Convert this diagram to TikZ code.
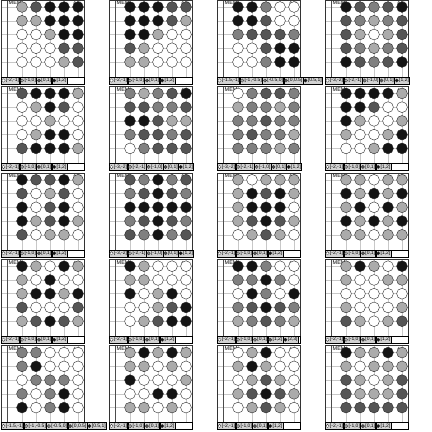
\documentclass[tikz,border=0pt]{standalone}
\usepackage{fontspec}
\setmainfont{Liberation Sans}
\definecolor{cW}{HTML}{FFFFFF}
\definecolor{cL}{HTML}{ABABAB}
\definecolor{cM}{HTML}{808080}
\definecolor{cD}{HTML}{555555}
\definecolor{cB}{HTML}{141414}
\definecolor{gridc}{HTML}{C8C8C8}
\tikzset{
 frame/.style={draw=black!80, line width=0.6pt},
 gridln/.style={draw=gridc, line width=0.5pt},
 axisln/.style={draw=black!70, line width=0.5pt},
 dot/.style={draw=black!85, line width=0.4pt},
 legcell/.style={draw=black, line width=0.3pt, fill=gray!35, inner xsep=0.4pt, inner ysep=0pt, minimum height=7pt, font=\fontsize{5}{5}\selectfont, anchor=west},
 memlbl/.style={font=\fontsize{5.5}{5.5}\selectfont, anchor=north west, inner sep=0pt},
}
\newcommand\legfour{W/{[-2,-1]},L/{[-1,0]},D/{[0,1]},B/{[1,2]}}
\newcommand\legfiveA{W/{[-1.5,-1]},L/{[-1,-0.5]},M/{[-0.5,0]},D/{[0,0.5]},B/{[0.5,1]}}
\newcommand\legfiveB{W/{[-3,-2]},L/{[-2,-1]},M/{[-1,0]},D/{[0,1]},B/{[1,2]}}
\newcommand\legfiveC{W/{[-2,-1]},L/{[-1,0]},M/{[0,1]},D/{[1,2]},B/{[2,3]}}
\newcommand\mypanel[4]{%
\begin{scope}[shift={(#1,#2)}]
 \fill[white] (1,0) rectangle (84,84);
 \node[memlbl] at (8.5,1) {MEM};
 \node[memlbl, anchor=north east, font=\fontsize{4.5}{4.5}\selectfont] at (81,1.5) {4 m};
 \foreach \yy in {7,20.75,34.5,48.25,62} \draw[gridln] (1,\yy) -- (84,\yy);
 \foreach \xx in {22,36,50,64,78} \draw[gridln] (\xx,0) -- (\xx,77);
 \draw[axisln] (7,0) -- (7,84);
 \foreach \rowvals [count=\r from 0] in {#3} {
   \foreach \c [count=\k from 0] in \rowvals {
     \draw[dot, fill=c\c] (22+14*\k, 7+13.75*\r) circle (5.4pt);
   }
 }
 \draw[frame] (1,0) rectangle (84,84);
 \draw[legcell, fill=white] (1,77) rectangle (84,84);
 \coordinate (leg0) at (1,80.5);
 \foreach \col/\txt [count=\i, remember=\i as \lasti (initially 0)] in #4 {
   \node[legcell] (leg\i) at (leg\lasti.east) {\hspace*{4.4pt}\txt};
   \draw[dot, line width=0.25pt, fill=c\col] ([xshift=2.5pt]leg\i.west) circle (1.7pt);
 }
\end{scope}}
\begin{document}
\begin{tikzpicture}[x=1pt,y=-1pt]
\useasboundingbox (0,0) rectangle (432,432);
% row 1
\mypanel{0}{0}{{L,D,B,B,B},{L,L,B,B,B},{W,W,L,B,B},{W,W,W,D,D},{W,W,W,L,D}}{\legfour}
\mypanel{108}{0}{{B,B,B,D,D},{B,B,B,D,L},{B,B,L,W,W},{D,L,W,W,W},{L,L,W,W,W}}{\legfour}
\mypanel{216}{0}{{B,B,M,W,W},{B,B,D,W,W},{M,D,D,D,M},{W,W,D,B,B},{W,W,M,B,B}}{\legfiveA}
\mypanel{324}{0}{{B,D,M,D,B},{D,M,L,M,D},{D,L,W,L,D},{D,M,L,M,D},{B,D,M,D,B}}{\legfiveB}
% row 2
\mypanel{0}{86.4}{{D,B,B,B,L},{W,L,B,D,W},{W,W,L,W,W},{W,L,B,B,W},{D,B,B,B,L}}{\legfour}
\mypanel{108}{86.4}{{M,L,M,D,B},{D,D,M,M,D},{B,B,D,L,L},{M,D,D,M,D},{W,M,D,D,D}}{\legfiveB}
\mypanel{216}{86.4}{{W,M,D,D,M},{L,M,M,L,M},{M,M,D,M,M},{M,D,M,M,L},{M,M,M,L,M}}{\legfiveB}
\mypanel{324}{86.4}{{B,B,B,B,L},{B,B,D,W,W},{B,L,W,W,L},{L,W,W,L,B},{W,W,L,B,B}}{\legfour}
% row 3
\mypanel{0}{172.8}{{B,D,D,B,L},{D,W,L,D,W},{B,W,D,B,W},{B,L,D,B,L},{D,W,L,L,W}}{\legfour}
\mypanel{108}{172.8}{{D,M,B,M,D},{M,D,B,D,M},{B,B,B,B,B},{M,D,B,D,M},{D,M,B,M,D}}{\legfiveB}
\mypanel{216}{172.8}{{L,W,L,L,L},{L,B,D,B,L},{L,B,B,B,W},{L,D,B,D,L},{W,L,D,L,W}}{\legfour}
\mypanel{324}{172.8}{{L,L,W,L,L},{B,L,B,L,B},{L,B,W,B,L},{B,L,B,L,B},{L,L,W,L,L}}{\legfour}
% row 4
\mypanel{0}{259.2}{{B,L,W,B,L},{L,W,B,W,W},{L,B,B,L,B},{D,W,W,W,D},{L,D,B,D,L}}{\legfour}
\mypanel{108}{259.2}{{B,L,W,W,W},{L,L,W,W,W},{B,W,L,B,W},{W,W,L,D,B},{W,L,D,B,B}}{\legfour}
\mypanel{216}{259.2}{{B,B,M,W,W},{M,M,B,M,W},{W,B,M,W,B},{M,D,B,D,M},{L,M,D,M,L}}{\legfiveC}
\mypanel{324}{259.2}{{L,B,L,W,B},{L,W,W,L,L},{W,W,W,W,W},{L,W,W,W,L},{D,L,W,L,D}}{\legfour}
% row 5
\mypanel{0}{345.6}{{M,M,W,W,W},{M,B,W,W,W},{W,M,M,M,W},{M,W,M,B,W},{B,W,M,B,W}}{\legfiveA}
\mypanel{108}{345.6}{{L,B,L,B,L},{L,L,W,L,W},{B,W,W,W,L},{W,W,B,B,W},{L,L,W,L,W}}{\legfour}
\mypanel{216}{345.6}{{W,L,B,W,W},{L,B,L,W,W},{W,L,D,L,W},{L,D,B,D,L},{W,L,D,L,W}}{\legfour}
\mypanel{324}{345.6}{{B,L,L,B,L},{L,W,L,L,L},{D,L,W,L,D},{D,L,L,L,D},{D,D,D,D,D}}{\legfour}
\end{tikzpicture}
\end{document}
